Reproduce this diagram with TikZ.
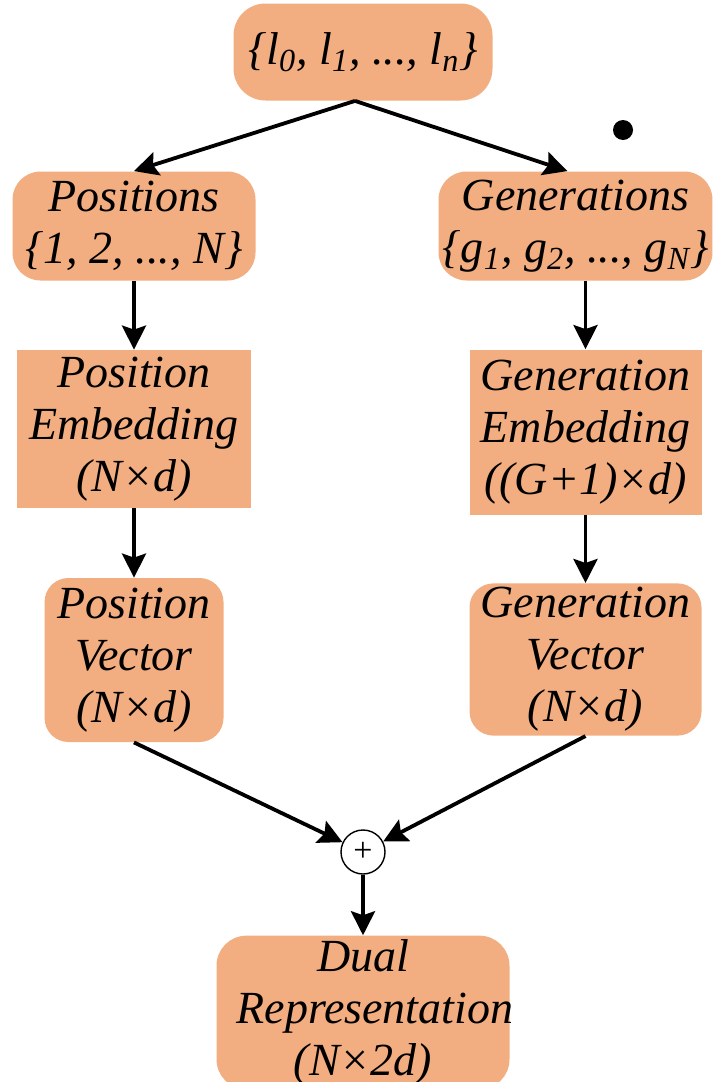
\documentclass[tikz,border=0pt]{standalone}
\usepackage{fontspec}
\setmainfont{Liberation Serif}
\usepackage{tikz}
\usetikzlibrary{shapes, arrows.meta, positioning}
\definecolor{boxfill}{RGB}{242,173,128}

\begin{document}
\begin{tikzpicture}[node distance=100pt, >={Stealth[length=12pt, width=12pt, inset=2pt]}, font=\fontsize{23}{26}\selectfont\itshape]
    % Styles
    \tikzstyle{rblock} = [rectangle, fill=boxfill, rounded corners=14pt, align=center, inner sep=2pt]
    \tikzstyle{sblock} = [rectangle, fill=boxfill, align=center, inner sep=2pt]
    \tikzstyle{line} = [draw, line width=1.9pt, ->]
    \useasboundingbox (0,0) rectangle (363.5pt,-541pt);

    % Nodes
    \node [rblock, minimum width=129.5pt, minimum height=48.5pt, rounded corners=16pt] (top) at (181.5pt,-26pt) {\{l\textsubscript{0}, l\textsubscript{1}, ..., l\textsubscript{n}\}};
    \node [rblock, below of=top, node distance=87pt, xshift=-114.5pt, minimum width=121.5pt, minimum height=54.5pt] (pos) {Positions\\\{1, 2, ..., N\}};
    \node [rblock, right of=pos, node distance=220.75pt, minimum width=130.5pt, minimum height=54.5pt] (gen) {Generations\\\{g\textsubscript{1}, g\textsubscript{2}, ..., g\textsubscript{N}\}};
    \node [sblock, below of=pos, node distance=101.5pt, minimum width=117pt, minimum height=79pt] (posemb) {Position\\Embedding\\(N×d)};
    \node [sblock, below of=gen, node distance=103pt, xshift=5pt, minimum width=116pt, minimum height=82.5pt] (genemb) {Generation\\Embedding\\((G+1)×d)};
    \node [rblock, below of=posemb, node distance=115.5pt, minimum width=89.5pt, minimum height=82pt, rounded corners=12pt] (posvec) {Position\\Vector\\(N×d)};
    \node [rblock, below of=genemb, node distance=113.75pt, minimum width=116pt, minimum height=75pt, rounded corners=12pt] (genvec) {Generation\\Vector\\(N×d)};
    \node [circle, draw, fill=white, line width=0.7pt, minimum size=22pt, inner sep=0pt, font=\fontsize{17}{17}\selectfont, below of=top, node distance=400pt] (plus) {+};
    \node [rblock, below of=plus, node distance=80.25pt, minimum width=146.5pt, minimum height=75.5pt, text width=126.5pt, inner xsep=10pt, rounded corners=15pt] (dual) {Dual\\Representation\\(N×2d)};
    \node [circle, fill=black, minimum size=10pt, inner sep=0pt] (dot) at (311.5pt,-65pt) {};

    % Paths
    \path [line] ([xshift=-4pt]top.south) -- (pos.north);
    \path [line] ([xshift=-4pt]top.south) -- ([xshift=-4pt]gen.north);
    \path [line] (pos) -- (posemb);
    \path [line] (gen.south -| genemb.north) -- (genemb.north);
    \path [line] (posemb) -- (posvec);
    \path [line] (genemb) -- (genvec);

    % Merge
    \path [line] (posvec.south) -- (plus);
    \path [line] (genvec.south) -- (plus);
    \path [line] (plus) -- (dual);

\end{tikzpicture}
\end{document}
